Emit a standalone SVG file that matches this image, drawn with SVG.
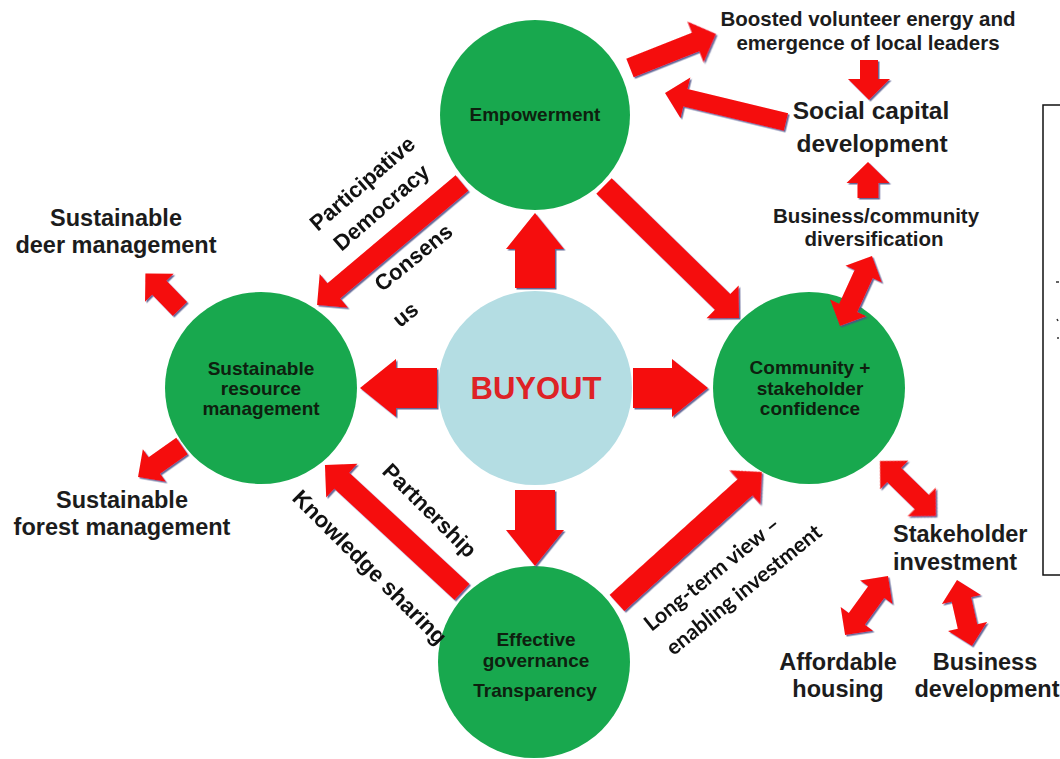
<svg xmlns="http://www.w3.org/2000/svg" width="1060" height="759" viewBox="0 0 1060 759">
<style>
.bg{fill:#ffffff}
.node{fill:#18a84e}
.core{fill:#b4dde3}
.ntx{font-family:"Liberation Sans",Arial,sans-serif;font-weight:bold;font-size:19px;fill:#0e200f;text-anchor:middle}
.lbl{font-family:"Liberation Sans",Arial,sans-serif;font-weight:bold;fill:#1c1c1c;text-anchor:middle}
.rot{font-family:"Liberation Sans",Arial,sans-serif;font-weight:bold;font-size:22px;fill:#111;text-anchor:middle}
.cal{font-family:Lato,"Liberation Sans",sans-serif;font-weight:bold;font-size:21.5px;fill:#111;text-anchor:middle}
.arr{fill:#f50a0a}
.box{fill:none;stroke:#111;stroke-width:1.5}
</style>
<defs>
<filter id="sh" x="-10%" y="-10%" width="120%" height="120%">
<feDropShadow dx="1.5" dy="1.5" stdDeviation="0.7" flood-color="#4b4f86" flood-opacity="0.85"/>
</filter>
</defs>
<rect class="bg" x="0" y="0" width="1060" height="759"/>

<g id="node-empowerment">
<circle class="node" cx="535" cy="115" r="95"/>
<text class="ntx" x="535" y="121">Empowerment</text>
</g>
<g id="node-resource">
<circle class="node" cx="261" cy="388" r="96"/>
<text class="ntx" x="261" y="375">Sustainable</text>
<text class="ntx" x="261" y="395">resource</text>
<text class="ntx" x="261" y="415">management</text>
</g>
<g id="node-buyout">
<circle class="core" cx="535" cy="388" r="97"/>
<text x="536" y="399" style="font-family:'Liberation Sans',Arial,sans-serif;font-weight:bold;font-size:31px;fill:#de2226;text-anchor:middle">BUYOUT</text>
</g>
<g id="node-confidence">
<circle class="node" cx="809" cy="388" r="96"/>
<text class="ntx" x="810" y="374">Community +</text>
<text class="ntx" x="810" y="395">stakeholder</text>
<text class="ntx" x="810" y="415">confidence</text>
</g>
<g id="node-governance">
<circle class="node" cx="534" cy="662" r="96"/>
<text class="ntx" x="536" y="646">Effective</text>
<text class="ntx" x="536" y="667">governance</text>
<text class="ntx" x="535" y="697">Transparency</text>
</g>
<g id="node-boosted">
<text class="lbl" x="868" y="26" style="font-size:20.5px">Boosted volunteer energy and</text>
<text class="lbl" x="868" y="50" style="font-size:20.5px">emergence of local leaders</text>
</g>
<g id="node-social">
<text class="lbl" x="871" y="119" style="font-size:24.5px">Social capital</text>
<text class="lbl" x="872" y="152" style="font-size:24.5px">development</text>
</g>
<g id="node-diversification">
<text class="lbl" x="876" y="223" style="font-size:20.5px">Business/community</text>
<text class="lbl" x="874" y="246" style="font-size:20.5px">diversification</text>
</g>
<g id="node-deer">
<text class="lbl" x="116" y="226" style="font-size:23.5px">Sustainable</text>
<text class="lbl" x="116" y="253" style="font-size:23.5px">deer management</text>
</g>
<g id="node-forest">
<text class="lbl" x="122" y="508" style="font-size:23.5px">Sustainable</text>
<text class="lbl" x="122" y="535" style="font-size:23.5px">forest management</text>
</g>
<g id="node-stakeholder">
<text class="lbl" x="893" y="542" style="font-size:23.5px;text-anchor:start">Stakeholder</text>
<text class="lbl" x="893" y="570" style="font-size:23.5px;text-anchor:start">investment</text>
</g>
<g id="node-housing">
<text class="lbl" x="838" y="670" style="font-size:23.5px">Affordable</text>
<text class="lbl" x="838" y="697" style="font-size:23.5px">housing</text>
</g>
<g id="node-business">
<text class="lbl" x="985" y="670" style="font-size:23.5px">Business</text>
<text class="lbl" x="987" y="697" style="font-size:23.5px">development</text>
</g>
<g id="node-box">
<rect class="box" x="1043" y="105" width="40" height="470"/>
<path d="M1056,282 h3 M1057,319 l1,2 M1057,338 h2" stroke="#333" stroke-width="1.5" fill="none"/>
</g>

<g id="connectors" filter="url(#sh)">
<path class="arr" transform="translate(535,288) rotate(-90)" d="M0,-20 H39 V-29 L75,0 L39,29 V20 H0 Z"/>
<path class="arr" transform="translate(437,388) rotate(180)" d="M0,-20 H41 V-29 L77,0 L41,29 V20 H0 Z"/>
<path class="arr" transform="translate(633,388)" d="M0,-20 H39 V-29 L75,0 L39,29 V20 H0 Z"/>
<path class="arr" transform="translate(535,490) rotate(90)" d="M0,-20 H40 V-29 L76,0 L40,29 V20 H0 Z"/>
<path class="arr" transform="translate(462,183) rotate(139.9)" d="M0,-10 H167.5 V-22 L189.5,0 L167.5,22 V10 H0 Z"/>
<path class="arr" transform="translate(604,186) rotate(44.35)" d="M0,-11 H165.8 V-23 L188.8,0 L165.8,23 V11 H0 Z"/>
<path class="arr" transform="translate(462,592) rotate(-137.2)" d="M0,-11 H163.8 V-23 L186.8,0 L163.8,23 V11 H0 Z"/>
<path class="arr" transform="translate(617,603) rotate(-42.1)" d="M0,-11 H172.4 V-23 L195.4,0 L172.4,23 V11 H0 Z"/>
<path class="arr" transform="translate(630,68) rotate(-21.6)" d="M0,-10 H70.5 V-22 L92.5,0 L70.5,22 V10 H0 Z"/>
<path class="arr" transform="translate(869,60) rotate(90)" d="M0,-9 H19 V-21 L40,0 L19,21 V9 H0 Z"/>
<path class="arr" transform="translate(786,122) rotate(193.5)" d="M0,-9 H103.4 V-21 L124.4,0 L103.4,21 V9 H0 Z"/>
<path class="arr" transform="translate(868,198) rotate(-90)" d="M0,-10.5 H15 V-21.5 L36,0 L15,21.5 V10.5 H0 Z"/>
<path class="arr" transform="translate(872,256) rotate(114.6)" d="M0,0 L20,-20 V-10 H57 V-20 L77,0 L57,20 V10 H20 V20 Z"/>
<path class="arr" transform="translate(880,461) rotate(44.5)" d="M0,0 L20,-20 V-10 H58.5 V-20 L78.5,0 L58.5,20 V10 H20 V20 Z"/>
<path class="arr" transform="translate(888,576) rotate(126)" d="M0,0 L20,-20 V-10 H53 V-20 L73,0 L53,20 V10 H20 V20 Z"/>
<path class="arr" transform="translate(957,580) rotate(77.2)" d="M0,0 L20,-20 V-10 H47.7 V-20 L67.7,0 L47.7,20 V10 H20 V20 Z"/>
<path class="arr" transform="translate(180,309) rotate(-134.2)" d="M0,-10 H29.6 V-20 L49.6,0 L29.6,20 V10 H0 Z"/>
<path class="arr" transform="translate(182,446) rotate(144.8)" d="M0,-10 H33.8 V-20 L53.8,0 L33.8,20 V10 H0 Z"/>
</g>

<g id="connector-labels">
<text class="rot" transform="translate(362,183) rotate(-41)" y="8">Participative</text>
<text class="rot" transform="translate(381,207) rotate(-41)" y="8">Democracy</text>
<text class="rot" transform="translate(413,257) rotate(-39)" y="8">Consens</text>
<text class="rot" transform="translate(405,314) rotate(-39)" y="8">us</text>
<text class="rot" transform="translate(430,510) rotate(45)" y="8">Partnership</text>
<text class="rot" transform="translate(370,567) rotate(45)" y="8" style="font-size:22.5px">Knowledge sharing</text>
<text class="cal" transform="translate(712,574) rotate(-39)" y="7">Long-term view –</text>
<text class="cal" transform="translate(744,590) rotate(-39)" y="7">enabling investment</text>
</g>
</svg>
